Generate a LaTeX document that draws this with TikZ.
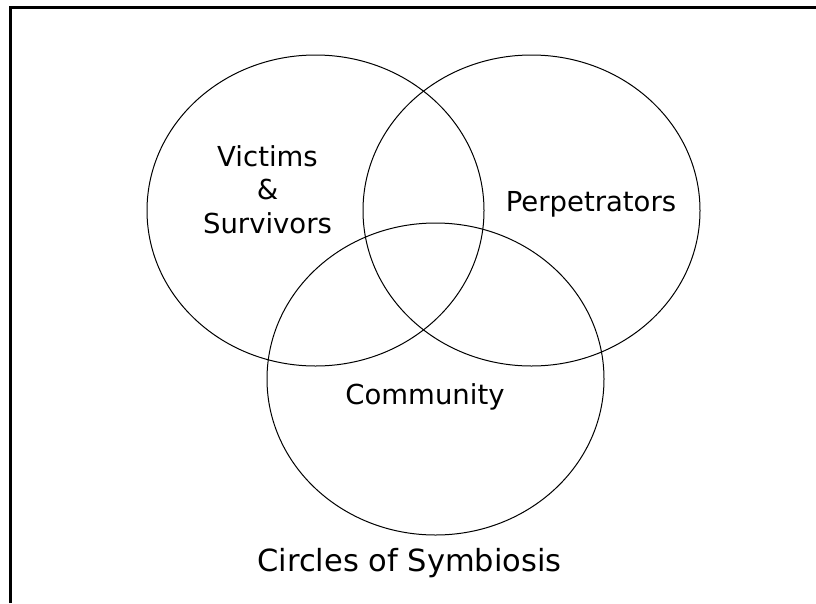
\documentclass[tikz,border=0pt]{standalone}
\usepackage{fontspec}
\setmainfont{DejaVu Sans}
\begin{document}
\begin{tikzpicture}[x=1pt,y=-1pt,
  venn/.style={draw=black,line width=1pt},
  framing/.style={draw=black,line width=2.6pt},
  lbl/.style={font=\fontsize{27.5}{33.5}\selectfont,align=center,inner sep=0pt},
  ttl/.style={font=\fontsize{30.5}{36}\selectfont,inner sep=0pt}]
\useasboundingbox (0,0) rectangle (816,603);
\fill[white] (0,0) rectangle (816,603);
% frame (only top and left edges visible)
\coordinate (fbl) at (10.3,603);
\coordinate (ftl) at (10.3,7.2);
\coordinate (ftr) at (816,7.2);
\draw[framing] (fbl) -- (ftl) -- (ftr);
% circles
\draw[venn] (315.5,210.5) ellipse [x radius=168.5, y radius=155.5];
\draw[venn] (531.5,210.5) ellipse [x radius=168.5, y radius=155.5];
\draw[venn] (435.5,379) ellipse [x radius=168.5, y radius=156];
% labels
\node[lbl,anchor=center] (vic) at (267.5,189.5) {Victims\\\&\\Survivors};
\node[lbl,anchor=base] (per) at (591,211.7) {Perpetrators};
\node[lbl,anchor=base] (com) at (425,404) {Community};
\node[ttl,anchor=base] (title) at (409.5,571) {Circles of Symbiosis};
\end{tikzpicture}
\end{document}
